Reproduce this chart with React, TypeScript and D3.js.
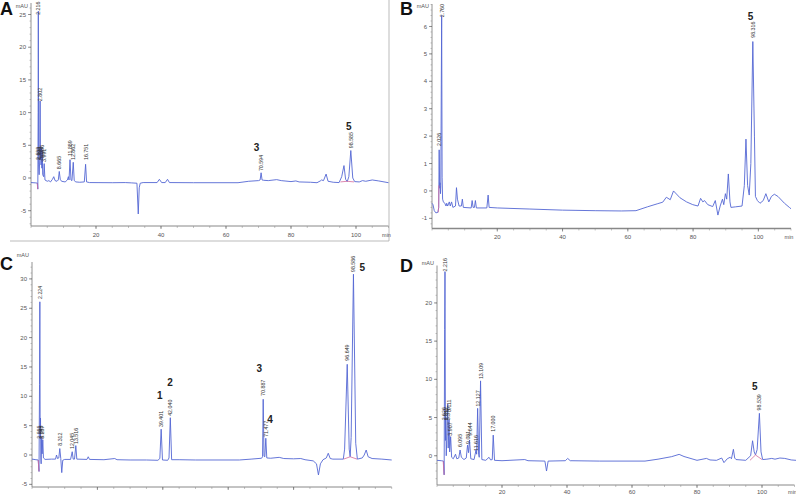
import * as d3 from "d3";

type Pt = [number, number];
type Lbl = [number, number, string];

// retention time (min) vs absorbance (mAU)
const traceA: Pt[] = [
  [0, -0.7], [1.5, -0.75], [2.0, -0.8], [2.1, -1.7], [2.2, 10], [2.25, 25.5], [2.35, 2], [2.5, 0.5],
  [2.7, 3], [2.8, 11.8], [2.9, 3], [3.0, 4.5], [3.1, 2], [3.25, 4.6], [3.35, 1.5], [3.45, 4.2],
  [3.6, 0.5], [3.9, 0.2], [4.05, 2.2], [4.3, -0.3], [5, -0.5], [5.5, -0.4], [6, -0.6], [6.6, -0.2],
  [7, 0.2], [7.4, -0.4], [8, -0.5], [8.4, -0.3], [8.7, 1.0], [9.0, -0.2], [9.4, -0.5], [10.5, -0.6],
  [11.2, -0.3], [11.5, 0.2], [11.7, -0.3], [12.0, 2.8], [12.3, -0.3], [12.6, -0.4], [13.0, 2.4],
  [13.3, -0.4], [13.8, -0.6], [15, -0.65], [16.4, -0.6], [16.8, 2.1], [17.1, -0.6], [18, -0.7],
  [25, -0.72], [29, -0.7], [31, -0.75], [32.6, -0.8], [33.0, -5.5], [33.3, -1.5], [33.6, -0.8],
  [34.5, -0.7], [38.8, -0.7], [39.5, -0.2], [40.2, -0.7], [41.3, -0.7], [42, -0.2], [42.6, -0.7],
  [50, -0.72], [60, -0.72], [63.7, -0.72], [67, -0.5], [70, -0.4], [70.5, -0.3], [70.8, 0.8],
  [71.1, -0.3], [71.6, -0.35], [73, -0.4], [75.6, -0.25], [77, -0.4], [80, -0.55], [81.5, -0.45],
  [82.5, -0.6], [86, -0.65], [88, -0.72], [89, -0.45], [89.4, -0.3], [90, -0.4], [90.8, 0.6],
  [91.4, -0.5], [93, -0.65], [94.8, -0.7], [95.6, 0.2], [96.3, 1.9], [96.8, -0.2], [97.3, -0.55],
  [97.8, 0.2], [98.4, 4.2], [99.0, 0.0], [99.6, -0.55], [101, -0.6], [102, -0.4], [103, -0.5],
  [105, -0.3], [107, -0.45], [110, -0.72],
];

const traceB: Pt[] = [
  [0, -0.45], [0.3, -0.5], [0.7, -0.72], [1.2, -0.8], [1.8, -0.78], [2.05, -0.6], [2.2, 1.5],
  [2.35, 0.1], [2.45, 0.3], [2.6, -0.1], [2.7, 0.2], [2.85, 3.9], [2.96, 6.4], [3.1, 0.5],
  [3.25, -0.3], [3.5, -0.4], [3.9, -0.45], [4.3, -0.55], [4.5, -0.45], [4.8, -0.55], [5.3, -0.4],
  [5.6, -0.55], [6.0, -0.4], [6.4, -0.6], [7.2, -0.55], [7.5, 0.12], [7.8, -0.3], [8.3, -0.55],
  [9.0, -0.55], [9.3, -0.3], [9.6, -0.6], [12.0, -0.62], [12.3, -0.35], [12.6, -0.6], [13.0, -0.6],
  [13.3, -0.35], [13.6, -0.62], [16.8, -0.62], [17.2, -0.15], [17.5, -0.6], [20, -0.62],
  [30, -0.66], [40, -0.7], [50, -0.72], [58, -0.73], [62.5, -0.72], [66, -0.58], [69, -0.47],
  [70.7, -0.41], [71.8, -0.23], [73, -0.32], [74, 0.0], [76, -0.25], [78, -0.4], [79.9, -0.5],
  [81.5, -0.55], [82.3, -0.27], [83, -0.4], [83.5, -0.35], [84.5, -0.5], [86, -0.57], [86.8, -0.35],
  [87.6, -0.88], [88.3, -0.55], [89.0, -0.3], [89.4, -0.5], [89.9, -0.1], [90.3, -0.3], [90.8, 0.62],
  [91.3, -0.4], [91.6, -0.6], [93, -0.58], [95, -0.55], [95.7, 0.2], [96.2, 1.89], [96.7, 0.2],
  [97.2, -0.15], [97.7, 1.0], [98.3, 5.45], [98.8, 2.0], [99.1, -0.2], [99.7, -0.35], [100.5, -0.45],
  [101.5, -0.35], [102.3, -0.1], [103.2, -0.4], [104, -0.2], [104.9, -0.12], [106, -0.2],
  [108, -0.45], [109.5, -0.6], [110, -0.65],
];

const traceC: Pt[] = [
  [0, -0.7], [1.2, -0.8], [1.9, -0.85], [2.15, -2.8], [2.3, 12], [2.4, 26.1], [2.5, 3], [2.6, 6.3],
  [2.7, -0.5], [2.8, -1.5], [2.95, 3.0], [3.1, 0.2], [3.3, 2.6], [3.5, -0.5], [4, -0.75], [6, -0.7],
  [7.2, -0.7], [7.5, 0.0], [7.8, -0.6], [8.2, -0.5], [8.5, 1.1], [8.8, -0.6], [9.1, -3.0],
  [9.4, -0.9], [10, -0.75], [11.8, -0.75], [12.3, 0.56], [12.6, -0.7], [13.0, -0.7], [13.4, 1.6],
  [13.7, -0.7], [16.8, -0.75], [17.2, -0.3], [17.6, -0.75], [22, -0.8], [25.3, -0.6], [26, -0.8],
  [30, -0.85], [35, -0.85], [38.5, -0.9], [39.1, -0.6], [39.5, 4.4], [39.9, -0.85], [41.5, -0.9],
  [41.9, -0.5], [42.3, 6.35], [42.7, -0.8], [45, -0.8], [50, -0.85], [63.4, -0.85], [67, -0.7],
  [70.2, -0.55], [70.5, -0.3], [70.7, 9.5], [70.95, -0.2], [71.2, -0.3], [71.5, 2.85], [71.8, -0.5],
  [73, -0.55], [75.6, -0.4], [77, -0.6], [80, -0.65], [82.2, -0.6], [83.5, -0.8], [86, -1.0],
  [87, -1.5], [87.6, -3.4], [88.2, -1.5], [89, -0.8], [90, -0.5], [90.6, 0.3], [91.2, -0.6],
  [92, -0.7], [95.2, -0.7], [95.6, 1.0], [96.4, 15.45], [97.0, 1.0], [97.3, -0.3], [97.6, 3],
  [98.3, 30.8], [99.0, 2], [99.5, -0.7], [101, -0.5], [101.6, 0.0], [102.2, 0.85], [102.8, -0.3],
  [104, -0.6], [107, -0.7], [110, -0.85],
];

const traceD: Pt[] = [
  [0, -0.6], [1.3, -0.65], [2.0, -0.7], [2.2, -2.5], [2.35, 16.5], [2.46, 24.1], [2.6, 2], [2.7, 5.1],
  [2.85, 0], [3.0, 2], [3.3, 6.75], [3.45, 1], [3.7, 4.7], [3.9, 0.5], [4.2, 2.5], [4.5, -0.2],
  [5.0, -0.4], [5.7, 0.2], [6.1, -0.4], [6.7, -0.3], [7.1, 0.75], [7.5, -0.2], [8.3, -0.5],
  [9.0, -0.3], [9.4, 1.4], [9.7, 0.4], [10.0, 2.05], [10.4, -0.4], [11.4, -0.5], [12.0, 0.75],
  [12.2, 0.2], [12.5, 6.2], [12.8, 0.2], [13.0, -0.2], [13.4, 9.8], [13.8, -0.5], [15, -0.6],
  [16.0, -0.2], [16.5, -0.55], [17.0, -0.5], [17.3, 2.7], [17.7, -0.6], [20, -0.65], [27, -0.5],
  [28, -0.65], [33.2, -0.7], [33.7, -2.0], [34.2, -0.7], [39.5, -0.65], [40.2, -0.35], [41, -0.65],
  [50, -0.7], [64, -0.7], [68, -0.45], [72.2, -0.12], [74.5, 0.18], [76, -0.1], [80, -0.6],
  [82.9, -0.35], [84, -0.55], [86, -0.6], [87.6, -0.3], [88.3, -0.9], [89.3, -0.4], [90.2, -0.2],
  [90.6, -0.4], [91.2, 0.84], [91.6, -0.3], [92, -0.5], [95, -0.6], [96.5, 0.0], [97.1, 1.96],
  [97.6, 0.5], [98.0, 0.1], [98.5, 0.8], [99.2, 5.55], [99.7, 0.5], [100.2, -0.5], [101.5, -0.45],
  [103, -0.35], [104, -0.45], [105.5, -0.3], [107, -0.35], [109, -0.55], [110.5, -0.6],
];

// integration baselines (pink) drawn by the software
const marksA: Pt[][] = [[[1.9, -0.8], [2.1, -1.7]], [[95.2, -0.6], [97.3, -0.5], [99.4, -0.6]]];
const marksB: Pt[][] = [[[1.9, -0.78], [2.05, -0.6], [2.1, 0.2]]];
const marksC: Pt[][] = [[[1.9, -0.85], [2.15, -2.8]], [[95.3, -0.7], [97.3, -0.3], [99.4, -0.7]]];
const marksD: Pt[][] = [[[1.9, -0.7], [2.2, -2.5]], [[96.3, -0.6], [98.0, 0.1], [100.0, -0.5]]];

// retention-time labels: [time, value at label foot, text]
const rtA: Lbl[] = [
  [2.25, 24.8, "2.216"], [2.8, 11.6, "2.802"], [2.1, 2.6, "2.533"], [2.6, 2.6, "2.698"],
  [3.05, 2.6, "3.023"], [3.4, 2.9, "3.256"], [4.05, 2.3, "3.991"], [8.7, 1.2, "8.665"],
  [12.0, 3.2, "11.889"], [13.0, 2.6, "12.862"], [16.8, 2.6, "16.751"], [70.8, 0.9, "70.594"],
  [98.4, 4.4, "98.585"],
];
const rtB: Lbl[] = [[2.2, 1.6, "2.026"], [2.96, 6.3, "2.760"], [98.3, 5.55, "98.316"]];
const rtC: Lbl[] = [
  [2.4, 26.4, "2.224"], [2.2, 2.6, "2.565"], [2.7, 2.6, "2.848"], [3.2, 2.6, "3.287"],
  [8.5, 1.4, "8.312"], [12.3, 0.85, "12.045"], [13.4, 1.7, "13.516"], [39.5, 4.6, "39.401"],
  [42.3, 6.5, "42.040"], [70.7, 9.9, "70.887"], [71.5, 2.9, "71.477"], [96.4, 15.9, "96.649"],
  [98.3, 31.0, "98.586"],
];
const rtD: Lbl[] = [
  [2.46, 24.0, "2.216"], [2.3, 4.5, "2.626"], [2.9, 4.5, "2.811"], [3.5, 4.5, "3.376"],
  [3.8, 5.6, "3.111"], [4.05, 2.5, "3.907"], [7.1, 1.0, "6.095"], [9.4, 1.4, "9.081"],
  [10.0, 2.5, "9.644"], [12.0, 0.5, "11.616"], [12.5, 6.3, "12.127"], [13.4, 9.9, "13.109"],
  [17.3, 3.0, "17.000"], [99.2, 5.8, "98.539"],
];

// compound numbers
const cmpA: Lbl[] = [[69.4, 4.1, "3"], [97.8, 7.3, "5"]];
const cmpB: Lbl[] = [[97.6, 6.22, "5"]];
const cmpC: Lbl[] = [[39.1, 9.5, "1"], [42.2, 11.75, "2"], [69.5, 14.1, "3"], [72.8, 5.45, "4"], [101.0, 31.35, "5"]];
const cmpD: Lbl[] = [[97.8, 8.6, "5"]];

const timeTicks = [20, 40, 60, 80, 100];
const yTicksA = [-5, 0, 5, 10, 15, 20, 25];
const yTicksB = [-1, 0, 1, 2, 3, 4, 5, 6];
const yTicksC = [-5, 0, 5, 10, 15, 20, 25, 30];
const yTicksD = [0, 5, 10, 15, 20];

const panels = [
  { letter: "A", lx: 0, ly: 15, xr: [31, 388.5], yd: [-7.34, 26.76], yr: [226, 3], yt: yTicksA, minor: 34, mauY: 8, tl: 11, data: traceA, marks: marksA, rt: rtA, cmp: cmpA, xAxisW: 1 },
  { letter: "B", lx: 400, ly: 15, xr: [432, 791], yd: [-1.37, 6.82], yr: [228.5, 4], yt: yTicksB, minor: 40, mauY: 8, tl: 10, data: traceB, marks: marksB, rt: rtB, cmp: cmpB, xAxisW: 1.6 },
  { letter: "C", lx: 0, ly: 270, xr: [32, 391.7], yd: [-5.45, 32.88], yr: [487, 262], yt: yTicksC, minor: 38, mauY: 257, tl: 12, data: traceC, marks: marksC, rt: rtC, cmp: cmpC, xAxisW: 1 },
  { letter: "D", lx: 400, ly: 272, xr: [437, 794.5], yd: [-3.83, 24.9], yr: [485, 265.5], yt: yTicksD, minor: 29, mauY: 265, tl: 9, data: traceD, marks: marksD, rt: rtD, cmp: cmpD, xAxisW: 1 },
];

const FONT = "Liberation Sans, Arial, sans-serif";

function Panel({ p }: { p: (typeof panels)[number] }) {
  const x = d3.scaleLinear().domain([0, 110]).range(p.xr);
  const y = d3.scaleLinear().domain(p.yd).range(p.yr);
  const line = d3.line<Pt>().x(d => x(d[0])).y(d => y(d[1]));
  const x0 = p.xr[0];
  const yb = p.yr[0];
  const xMinor = x.ticks(22);
  const yMinor = y.ticks(p.minor);

  return (
    <g>
      <text x={p.lx} y={p.ly} fontFamily={FONT} fontWeight="bold" fontSize={18} fill="#111">{p.letter}</text>
      {/* y axis */}
      <line x1={x0} x2={x0} y1={p.yr[1]} y2={yb} stroke="#777" strokeWidth={0.8} />
      {yMinor.map(v => (
        <line key={"ym" + v} x1={x0 - 1.5} x2={x0} y1={y(v)} y2={y(v)} stroke="#888" strokeWidth={0.5} />
      ))}
      {p.yt.map(v => (
        <g key={"yt" + v}>
          <line x1={x0 - 3} x2={x0} y1={y(v)} y2={y(v)} stroke="#666" strokeWidth={0.7} />
          <text x={x0 - 5} y={y(v)} dy="0.35em" textAnchor="end" fontFamily={FONT} fontSize={6} fill="#555">{v}</text>
        </g>
      ))}
      <text x={x0 - 3} y={p.mauY} textAnchor="end" fontFamily={FONT} fontSize={5.5} fill="#555">mAU</text>
      {/* x axis */}
      <line x1={x0} x2={p.xr[1]} y1={yb} y2={yb} stroke="#888" strokeWidth={p.xAxisW} />
      {xMinor.map(v => (
        <line key={"xm" + v} x1={x(v)} x2={x(v)} y1={yb} y2={yb + 2} stroke="#888" strokeWidth={0.5} />
      ))}
      {timeTicks.map(v => (
        <g key={"xt" + v}>
          <line x1={x(v)} x2={x(v)} y1={yb} y2={yb + 3} stroke="#666" strokeWidth={0.7} />
          <text x={x(v)} y={yb + p.tl} textAnchor="middle" fontFamily={FONT} fontSize={6} fill="#555">{v}</text>
        </g>
      ))}
      <text x={p.xr[1] - 2} y={yb + p.tl} textAnchor="middle" fontFamily={FONT} fontSize={5.5} fill="#555">min</text>
      {/* trace */}
      <path d={line(p.data) ?? ""} fill="none" stroke="#5366d4" strokeWidth={0.9} strokeLinejoin="round" />
      {p.marks.map((m, i) => (
        <path key={"mk" + i} d={line(m) ?? ""} fill="none" stroke="#d46a9c" strokeWidth={0.8} />
      ))}
      {p.rt.map(([t, v, s], i) => (
        <text key={"rt" + i} transform={`translate(${x(t) + 2},${y(v) - 1}) rotate(-90)`} fontFamily={FONT} fontSize={5.3} fill="#333">{s}</text>
      ))}
      {p.cmp.map(([t, v, s], i) => (
        <text key={"c" + i} x={x(t)} y={y(v)} textAnchor="middle" fontFamily={FONT} fontWeight="bold" fontSize={10} fill="#222">{s}</text>
      ))}
    </g>
  );
}

export default function App() {
  return (
    <svg width={796} height={495} style={{ position: "absolute", left: 0, top: 0, background: "#fff" }}>
      <rect width={796} height={495} fill="#fff" />
      <line x1={389} x2={389} y1={0} y2={241} stroke="#aaa" strokeWidth={0.8} />
      <line x1={10} x2={389} y1={241} y2={241} stroke="#aaa" strokeWidth={0.8} />
      {panels.map(p => <Panel key={p.letter} p={p} />)}
    </svg>
  );
}
